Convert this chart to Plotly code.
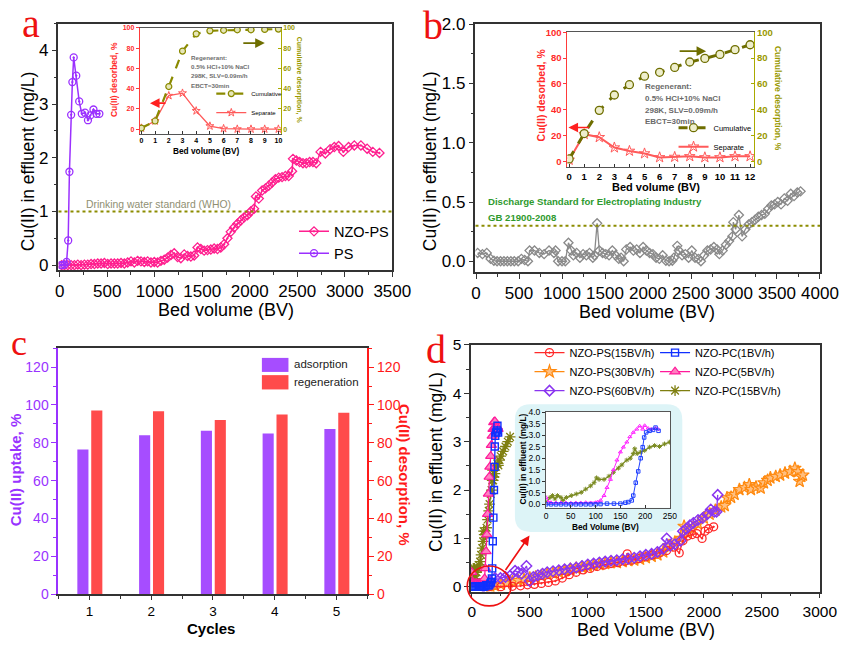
import plotly.graph_objects as go

# ---------------- DATA ----------------
# (a) breakthrough, main
a_nzops_bv = [20, 50, 85, 120, 155, 190, 225, 260, 295, 330, 365, 400, 435, 470, 505, 540, 575, 610, 645, 680,
              715, 750, 785, 820, 855, 890, 925, 960, 995, 1030, 1065, 1100, 1135, 1170, 1205, 1240, 1275, 1310, 1345, 1380,
              1415, 1450, 1485, 1520, 1555, 1590, 1625, 1660, 1695, 1730, 1765, 1800, 1835, 1870, 1905, 1940, 1975, 2010, 2045, 2065,
              2095, 2130, 2165, 2200, 2235, 2270, 2305, 2340, 2375, 2410, 2445, 2455, 2490, 2525, 2560, 2595, 2630, 2665, 2700, 2745,
              2795, 2845, 2890, 2935, 2985, 3040, 3100, 3170, 3235, 3295, 3365]
a_nzops_cu = [0.0, 0.0, 0.0, 0.0, 0.0, 0.01, 0.0, 0.01, 0.01, 0.02, 0.02, 0.03, 0.03, 0.04, 0.02, 0.03, 0.03, 0.03, 0.04, 0.03,
              0.05, 0.07, 0.05, 0.08, 0.07, 0.06, 0.07, 0.05, 0.06, 0.05, 0.08, 0.1, 0.14, 0.19, 0.22, 0.15, 0.13, 0.2, 0.17, 0.16,
              0.18, 0.33, 0.3, 0.27, 0.28, 0.29, 0.31, 0.3, 0.33, 0.39, 0.5, 0.62, 0.7, 0.77, 0.83, 0.89, 0.93, 1.0, 1.05, 1.28,
              1.24, 1.39, 1.43, 1.48, 1.54, 1.6, 1.63, 1.64, 1.66, 1.66, 1.75, 1.98, 1.95, 1.92, 1.9, 1.9, 1.92, 1.92, 1.9, 2.11,
              2.08, 2.16, 2.2, 2.22, 2.11, 2.2, 2.23, 2.23, 2.17, 2.11, 2.09]
a_ps_bv = [10, 30, 50, 72, 89, 102, 120, 133, 147, 174, 205, 232, 266, 297, 321, 355, 386, 417]
a_ps_cu = [0.0, 0.0, 0.01, 0.06, 0.46, 1.74, 2.8, 3.41, 3.87, 3.53, 3.05, 2.82, 2.84, 2.7, 2.79, 2.9, 2.82, 2.82]
WHO_LIMIT = 1.0

# (a) inset: desorption
a_ins_bv = [0, 1, 2, 3, 4, 5, 6, 7, 8, 9, 10]
a_ins_cum = [1, 8, 42, 77, 94, 97, 97.5, 98, 98, 98.4, 98.7]
a_ins_sep = [1, 8, 33, 35.5, 18, 3, 0.5, 0, 0, 0, 0]

# (b) breakthrough, main
b_bv = [19, 75, 125, 170, 208, 245, 285, 325, 365, 405, 445, 490, 528, 566, 604, 623, 680, 736, 792, 849,
        906, 925, 955, 1000, 1038, 1075, 1106, 1132, 1170, 1208, 1245, 1283, 1320, 1358, 1377, 1408, 1434, 1472, 1509, 1547,
        1585, 1623, 1660, 1687, 1717, 1747, 1792, 1830, 1868, 1906, 1943, 1981, 2019, 2057, 2094, 2132, 2170, 2208, 2245, 2283,
        2302, 2340, 2358, 2396, 2434, 2472, 2509, 2547, 2585, 2615, 2653, 2691, 2728, 2766, 2804, 2830, 2868, 2906, 2943, 2981,
        2992, 3019, 3057, 3094, 3132, 3170, 3208, 3245, 3283, 3321, 3358, 3396, 3434, 3472, 3509, 3547, 3585, 3623, 3660, 3698,
        3736, 3774]
b_cu = [0.07, 0.06, 0.07, 0.02, 0.005, 0.0, 0.0, 0.0, 0.0, 0.0, 0.0, 0.0, 0.02, 0.01, 0.0, 0.09, 0.09, 0.07, 0.06, 0.09,
        0.07, 0.09, 0.0, 0.0, 0.0, 0.156, 0.09, 0.05, 0.07, 0.03, 0.06, 0.05, 0.07, 0.03, 0.05, 0.32, 0.09, 0.07, 0.06, 0.05,
        0.09, 0.05, 0.02, 0.03, 0.0, 0.1, 0.12, 0.09, 0.1, 0.07, 0.12, 0.09, 0.07, 0.06, 0.03, 0.02, 0.05, 0.005, 0.0, 0.005,
        0.03, 0.13, 0.09, 0.05, 0.06, 0.03, 0.09, 0.03, 0.02, 0.0, 0.05, 0.09, 0.1, 0.12, 0.1, 0.06, 0.09, 0.14, 0.17, 0.21,
        0.33, 0.27, 0.39, 0.21, 0.27, 0.31, 0.33, 0.35, 0.375, 0.39, 0.4, 0.44, 0.47, 0.48, 0.5, 0.48, 0.53, 0.51, 0.57, 0.55,
        0.58, 0.59]
GB_LIMIT = 0.3

# (b) inset: desorption
b_ins_bv = [0, 1, 2, 3, 4, 5, 6, 7, 8, 9, 10, 11, 12]
b_ins_cum = [1.8, 21.5, 39.5, 51.4, 59.4, 66, 69, 72.8, 77, 79.8, 82.9, 86.6, 90.4]
b_ins_sep = [1, 21, 18.6, 10.6, 8, 6, 3, 3.3, 3.8, 3, 3, 3.8, 3.8]

# (c) cycles
c_cycles = [1, 2, 3, 4, 5]
c_adsorption = [76.4, 84.0, 86.4, 84.9, 87.3]
c_regeneration = [97.1, 96.7, 92.1, 95.0, 95.9]

# (d) flow-rate comparison
d_ps15_bv = [150, 250, 350, 420, 480, 540, 600, 660, 720, 780, 840, 900, 960, 1020, 1080, 1140, 1200, 1260, 1320, 1340,
             1380, 1440, 1500, 1560, 1620, 1680, 1740, 1788, 1820, 1860, 1900, 1940, 1985, 2010, 2040, 2085]
d_ps15_cu = [0.0, 0.0, 0.01, 0.02, 0.04, 0.05, 0.07, 0.09, 0.12, 0.18, 0.25, 0.3, 0.35, 0.38, 0.42, 0.45, 0.48, 0.5, 0.53, 0.68,
             0.55, 0.58, 0.62, 0.66, 0.7, 0.75, 0.82, 0.7, 0.95, 1.05, 1.08, 1.1, 1.0, 1.15, 1.2, 1.24]
d_ps30_bv = [160, 200, 250, 300, 350, 400, 450, 500, 550, 600, 650, 700, 750, 800, 850, 900, 950, 1000, 1050, 1100,
             1150, 1200, 1250, 1300, 1350, 1400, 1450, 1500, 1550, 1600, 1650, 1700, 1750, 1800, 1830, 1860, 1900, 1950, 2000, 2050,
             2100, 2150, 2180, 2200, 2235, 2265, 2307, 2350, 2392, 2406, 2450, 2490, 2518, 2550, 2574, 2620, 2658, 2700, 2743, 2785,
             2812, 2826, 2840, 2854]
d_ps30_cu = [0.0, 0.02, 0.05, 0.08, 0.1, 0.13, 0.15, 0.18, 0.2, 0.23, 0.26, 0.28, 0.3, 0.33, 0.36, 0.38, 0.4, 0.42, 0.44, 0.46,
             0.48, 0.5, 0.5, 0.52, 0.54, 0.55, 0.57, 0.6, 0.63, 0.66, 0.72, 0.85, 0.92, 1.0, 1.25, 1.12, 1.2, 1.3, 1.42, 1.5,
             1.58, 1.65, 1.68, 1.84, 1.85, 1.91, 2.01, 2.05, 2.11, 2.01, 2.06, 2.04, 2.15, 2.2, 2.25, 2.28, 2.31, 2.35, 2.38, 2.45,
             2.38, 2.18, 2.28, 2.31]
d_ps60_bv = [100, 130, 160, 200, 247, 290, 330, 373, 400, 430, 471, 499, 530, 570, 610, 650, 700, 750, 800, 850,
             900, 950, 1000, 1050, 1100, 1150, 1200, 1250, 1300, 1350, 1400, 1450, 1500, 1550, 1600, 1650, 1680, 1710, 1750, 1800,
             1820, 1850, 1880, 1910, 1950, 1990, 2030, 2060, 2090, 2110, 2120]
d_ps60_cu = [0.0, 0.05, 0.12, 0.18, 0.18, 0.2, 0.23, 0.33, 0.3, 0.27, 0.43, 0.12, 0.2, 0.24, 0.27, 0.3, 0.32, 0.34, 0.36, 0.38,
             0.4, 0.43, 0.46, 0.48, 0.5, 0.52, 0.54, 0.55, 0.57, 0.58, 0.6, 0.63, 0.66, 0.68, 0.72, 0.78, 1.0, 0.85, 0.88, 0.95,
             1.15, 1.2, 1.27, 1.32, 1.38, 1.42, 1.5, 1.6, 1.55, 1.55, 1.9]
d_pc1_bv = [0, 10, 20, 30, 40, 50, 60, 70, 80, 90, 100, 110, 123, 137, 150, 160, 166, 173, 176, 181,
            186, 191, 195, 198, 202, 209, 216, 221, 227]
d_pc1_cu = [0.0, 0.0, 0.0, 0.0, 0.0, 0.0, 0.0, 0.0, 0.0, 0.0, 0.0, 0.01, 0.03, 0.03, 0.03, 0.07, 0.1, 0.17, 0.38, 0.94,
            1.43, 2.0, 2.48, 2.9, 3.12, 3.19, 3.23, 3.33, 3.19]
d_pc5_bv = [0, 5, 10, 20, 30, 40, 50, 60, 70, 80, 90, 100, 104, 110, 117, 123, 130, 136, 143, 150,
            156, 163, 169, 176, 183, 189, 195, 199, 206, 212, 221, 226]
d_pc5_cu = [0.3, 0.1, 0.08, 0.07, 0.07, 0.07, 0.06, 0.07, 0.07, 0.08, 0.07, 0.08, 0.1, 0.17, 0.38, 0.73, 1.08, 1.5, 1.92, 2.27,
            2.48, 2.7, 2.93, 3.12, 3.26, 3.4, 3.26, 3.42, 3.3, 3.26, 3.3, 3.26]
d_pc15_bv = [0, 8, 13, 18, 23, 30, 34, 41, 51, 61, 71, 80, 90, 97, 102, 107, 117, 127, 136, 146,
             153, 163, 170, 176, 179, 184, 191, 199, 209, 219, 229, 239, 249, 270, 290, 310, 330]
d_pc15_cu = [0.1, 0.3, 0.38, 0.24, 0.38, 0.3, 0.17, 0.3, 0.38, 0.45, 0.52, 0.66, 0.8, 0.94, 1.15, 1.08, 1.08, 1.22, 1.39, 1.57,
             1.71, 1.92, 2.0, 2.2, 2.41, 2.2, 2.27, 2.34, 2.48, 2.55, 2.51, 2.62, 2.7, 2.8, 2.9, 3.0, 3.1]

# ---------------- STYLE / LAYOUT HELPERS ----------------
W, H = 857, 648
def fx(p):
    return p / W
def fy(p):
    return 1 - p / H

FONT = "Arial, Liberation Sans, sans-serif"
SERIF = "Liberation Serif, Times New Roman, serif"
FRAME = '#333333'

PINK = '#ff1f8f'
PURPLE = '#9b30ff'
OLIVE = '#8a8a00'
SEPRED = '#ff5a5a'
GRAY = '#8a8a8a'
ADS = '#a64dff'
REG = '#ff4b4b'
D_RED = '#ff2a2a'
D_ORANGE = '#ff8a10'
D_PURPLE = '#8a35f0'
D_BLUE = '#1030ff'
D_MAG = '#ff1a9a'
D_OLIVE = '#7f7f10'

def axis(dom, rng, anchor, size=17, color='black', bold=False, lc=FRAME, lw=1.5, tl=5, tk='outside', **kw):
    d = dict(domain=dom, range=rng, anchor=anchor, showgrid=False, zeroline=False,
             showline=True, linecolor=lc, linewidth=lw, ticks=tk, ticklen=tl,
             tickwidth=1.2, tickcolor=lc,
             tickfont=dict(family=FONT, size=size, color=color, weight='bold' if bold else 'normal'))
    d.update(kw)
    return d

fig = go.Figure()

# ---------- (a) main ----------
fig.add_trace(go.Scatter(x=a_nzops_bv, y=a_nzops_cu, name='NZO-PS', xaxis='x', yaxis='y', legend='legend',
                         mode='lines+markers', line=dict(color=PINK, width=1.5),
                         marker=dict(symbol='diamond-open-dot', size=7, color=PINK, line=dict(width=1.3))))
fig.add_trace(go.Scatter(x=a_ps_bv, y=a_ps_cu, name='PS', xaxis='x', yaxis='y', legend='legend',
                         mode='lines+markers', line=dict(color=PURPLE, width=1.5),
                         marker=dict(symbol='circle-open-dot', size=7, color=PURPLE, line=dict(width=1.3))))
# ---------- (a) inset ----------
fig.add_trace(go.Scatter(x=a_ins_bv, y=a_ins_cum, name='Cumulative', xaxis='x2', yaxis='y3', legend='legend2',
                         mode='lines+markers', line=dict(color=OLIVE, width=2.2, dash='dash'),
                         marker=dict(symbol='circle', size=6, color='#e6e6b8', line=dict(color=OLIVE, width=1.2))))
fig.add_trace(go.Scatter(x=a_ins_bv, y=a_ins_sep, name='Separate', xaxis='x2', yaxis='y2', legend='legend2',
                         mode='lines+markers', line=dict(color=SEPRED, width=1.3),
                         marker=dict(symbol='star-open', size=6, color=SEPRED, line=dict(width=1))))
# ---------- (b) main ----------
fig.add_trace(go.Scatter(x=b_bv, y=b_cu, name='NZO-PS', xaxis='x3', yaxis='y4', showlegend=False,
                         mode='lines+markers', line=dict(color=GRAY, width=1.3),
                         marker=dict(symbol='diamond-open', size=7, color=GRAY, line=dict(width=1.3))))
# ---------- (b) inset ----------
fig.add_trace(go.Scatter(x=b_ins_bv, y=b_ins_cum, name='Cumulative', xaxis='x4', yaxis='y6', legend='legend3',
                         mode='lines+markers', line=dict(color='#6e6e00', width=3, dash='dash'),
                         marker=dict(symbol='circle', size=8, color='#eeeecc', line=dict(color='#6e6e00', width=1.3))))
fig.add_trace(go.Scatter(x=b_ins_bv, y=b_ins_sep, name='Separate', xaxis='x4', yaxis='y5', legend='legend3',
                         mode='lines+markers', line=dict(color=SEPRED, width=2),
                         marker=dict(symbol='star-open', size=8, color=SEPRED, line=dict(width=1))))
# ---------- (c) bars ----------
fig.add_trace(go.Bar(x=c_cycles, y=c_adsorption, name='adsorption', xaxis='x5', yaxis='y7', showlegend=False,
                     width=0.18, offset=-0.195, marker=dict(color=ADS, line=dict(width=0))))
fig.add_trace(go.Bar(x=c_cycles, y=c_regeneration, name='regeneration', xaxis='x5', yaxis='y8', showlegend=False,
                     width=0.18, offset=0.03, marker=dict(color=REG, line=dict(width=0))))
# ---------- (d) main ----------
fig.add_trace(go.Scatter(x=d_ps30_bv, y=d_ps30_cu, name='NZO-PS(30BV/h)', xaxis='x6', yaxis='y9', legend='legend4', legendrank=2,
                         mode='lines+markers', line=dict(color=D_ORANGE, width=1.3),
                         marker=dict(symbol='star', size=9.5, color='#ffbf80', line=dict(color=D_ORANGE, width=1.2))))
fig.add_trace(go.Scatter(x=d_ps15_bv, y=d_ps15_cu, name='NZO-PS(15BV/h)', xaxis='x6', yaxis='y9', legend='legend4', legendrank=1,
                         mode='lines+markers', line=dict(color=D_RED, width=1.3),
                         marker=dict(symbol='circle-open-dot', size=8, color=D_RED, line=dict(width=1.3))))
fig.add_trace(go.Scatter(x=d_ps60_bv, y=d_ps60_cu, name='NZO-PS(60BV/h)', xaxis='x6', yaxis='y9', legend='legend4', legendrank=3,
                         mode='lines+markers', line=dict(color=D_PURPLE, width=1.3),
                         marker=dict(symbol='diamond-open', size=8, color=D_PURPLE, line=dict(width=1.5))))
fig.add_trace(go.Scatter(x=d_pc15_bv, y=d_pc15_cu, name='NZO-PC(15BV/h)', xaxis='x6', yaxis='y9', legend='legend5', legendrank=3,
                         mode='lines+markers', line=dict(color=D_OLIVE, width=1.3),
                         marker=dict(symbol='asterisk-open', size=9, color=D_OLIVE, line=dict(color=D_OLIVE, width=1.3))))
fig.add_trace(go.Scatter(x=d_pc5_bv, y=d_pc5_cu, name='NZO-PC(5BV/h)', xaxis='x6', yaxis='y9', legend='legend5', legendrank=2,
                         mode='lines+markers', line=dict(color=D_MAG, width=1.3),
                         marker=dict(symbol='triangle-up', size=9, color='#ff80c0', line=dict(color=D_MAG, width=1.2))))
fig.add_trace(go.Scatter(x=d_pc1_bv, y=d_pc1_cu, name='NZO-PC(1BV/h)', xaxis='x6', yaxis='y9', legend='legend5', legendrank=1,
                         mode='lines+markers', line=dict(color=D_BLUE, width=1.3),
                         marker=dict(symbol='square-open', size=7, color=D_BLUE, line=dict(width=1.4))))
# ---------- (d) inset ----------
fig.add_trace(go.Scatter(x=d_pc15_bv, y=d_pc15_cu, xaxis='x7', yaxis='y10', showlegend=False,
                         mode='lines+markers', line=dict(color='#7a8a20', width=1.2),
                         marker=dict(symbol='asterisk-open', size=4, color='#7a8a20', line=dict(color='#7a8a20', width=1))))
fig.add_trace(go.Scatter(x=d_pc5_bv, y=d_pc5_cu, xaxis='x7', yaxis='y10', showlegend=False,
                         mode='lines+markers', line=dict(color='#ff22ff', width=1),
                         marker=dict(symbol='triangle-up-open', size=3.5, color='#ff22ff', line=dict(width=1))))
fig.add_trace(go.Scatter(x=d_pc1_bv, y=d_pc1_cu, xaxis='x7', yaxis='y10', showlegend=False,
                         mode='lines+markers', line=dict(color='#2040ff', width=1),
                         marker=dict(symbol='square-open', size=3.5, color='#2040ff', line=dict(width=1))))

# ---------------- AXES ----------------
lay = dict(
    xaxis=axis([fx(56), fx(399)], [-13, 3500], 'y', mirror=True, dtick=500,
               minor=dict(ticks='outside', ticklen=3, dtick=250, tickcolor=FRAME)),
    yaxis=axis([fy(268), fy(15)], [-0.09, 4.5], 'x', mirror=True, dtick=1,
               minor=dict(ticks='outside', ticklen=3, dtick=0.5, tickcolor=FRAME)),
    xaxis2=axis([fx(139.5), fx(284.5)], [-0.12, 10.18], 'y2', size=7, bold=True, lw=1, tl=3, tk='inside', dtick=1,
                mirror=True, linecolor='#555'),
    yaxis2=axis([fy(128), fy(19.3)], [-4.5, 100], 'x2', size=7, bold=True, color='#ff2a2a', lc='#ff3a3a', lw=1, tl=3, dtick=20),
    yaxis3=axis(None, [-4.5, 100], 'x2', size=7, bold=True, color='#999900', lc='#aaaa00', lw=1, tl=3, tk='inside', dtick=20,
                overlaying='y2', side='right'),
    xaxis3=axis([fx(484.5), fx(838.5)], [-6, 4000], 'y4', mirror=True, dtick=500,
                minor=dict(ticks='outside', ticklen=3, dtick=250, tickcolor=FRAME)),
    yaxis4=axis([fy(270), fy(15.7)], [-0.09, 2.0], 'x3', mirror=True, dtick=0.5, tickformat='.1f',
                minor=dict(ticks='outside', ticklen=3, dtick=0.25, tickcolor=FRAME)),
    xaxis4=axis([fx(579), fx(770.7)], [-0.11, 12.26], 'y5', size=9.5, bold=True, lw=1, tl=3, tk='inside', dtick=1,
                mirror=True, linecolor='#555'),
    yaxis5=axis([fy(162.7), fy(24)], [-4.8, 100], 'x4', size=9.5, bold=True, color='#ff2a2a', lc='#ff3a3a', lw=1, tl=3, dtick=20),
    yaxis6=axis(None, [-4.8, 100], 'x4', size=9.5, bold=True, color='#999900', lc='#aaaa00', lw=1, tl=3, tk='inside', dtick=20,
                overlaying='y5', side='right'),
    xaxis5=axis([fx(56), fx(373.3)], [0.5, 5.5], 'y7', size=13.5, tl=4, mirror=True, dtick=1,
                minor=dict(ticks='outside', ticklen=3, dtick=0.5, tickcolor=FRAME)),
    yaxis7=axis([fy(601), fy(348.3)], [0, 130], 'x5', size=14, color='#9933ff', lc='#9933ff', lw=2, dtick=20,
                minor=dict(ticks='outside', ticklen=3, dtick=10, tickcolor='#9933ff')),
    yaxis8=axis(None, [0, 130], 'x5', size=14, color='#ff1a1a', lc='#ff1a1a', lw=2, dtick=20,
                overlaying='y7', side='right',
                minor=dict(ticks='outside', ticklen=3, dtick=10, tickcolor='#ff1a1a')),
    xaxis6=axis([fx(480), fx(838.3)], [-6, 3000], 'y9', size=15.5, mirror=True, dtick=500,
                minor=dict(ticks='outside', ticklen=3, dtick=250, tickcolor=FRAME)),
    yaxis9=axis([fy(598.3), fy(345)], [-0.1, 5.0], 'x6', size=15.5, mirror=True, dtick=1,
                minor=dict(ticks='outside', ticklen=3, dtick=0.5, tickcolor=FRAME)),
    xaxis7=axis([fx(557), fx(684.3)], [0, 250], 'y10', size=8.5, lw=1, tl=3, tk='inside', dtick=50, mirror=True,
                linecolor='#555'),
    yaxis10=axis([fy(512), fy(414)], [-0.14, 4.0], 'x7', size=8.5, lw=1, tl=3, dtick=0.5, tickformat='.1f',
                 mirror=True, linecolor='#555'),
)
for k in ('yaxis3', 'yaxis6', 'yaxis8'):
    lay[k].pop('domain')

def legend_at(xp, yp, size):
    return dict(x=fx(xp), y=fy(yp), xanchor='left', yanchor='top', bgcolor='rgba(0,0,0,0)',
                font=dict(family=FONT, size=size, color='black'), itemwidth=30, tracegroupgap=0)

lay['legend'] = legend_at(298, 212, 14.5)
lay['legend2'] = legend_at(213, 72, 6)
lay['legend3'] = legend_at(688, 107, 7.5)
lay['legend4'] = legend_at(540, 338, 11)
lay['legend5'] = legend_at(669, 338, 11)

# ---------------- ANNOTATIONS ----------------
ann = []
def txt(text, xp, yp, size, color='black', family=FONT, bold=False, angle=0, xanchor='center', yanchor='middle', align='center'):
    ann.append(dict(text=text, x=fx(xp), y=fy(yp), xref='paper', yref='paper', showarrow=False,
                    textangle=angle, xanchor=xanchor, yanchor=yanchor, align=align,
                    font=dict(family=family, size=size, color=color, weight='bold' if bold else 'normal')))

def arrow(x_head, y_head, dx, dy, color):
    ann.append(dict(text='', x=fx(x_head), y=fy(y_head), xref='paper', yref='paper', showarrow=True,
                    ax=dx, ay=dy, arrowhead=2, arrowsize=1.2, arrowwidth=1.6, arrowcolor=color))

# panel letters
txt('a', 28, 15, 40, '#ee1111', SERIF)
txt('b', 441, 17, 40, '#ee1111', SERIF)
txt('c', 15, 343, 36, '#ee1111', SERIF)
txt('d', 444, 350, 40, '#ee1111', SERIF)

# (a) titles
txt('Cu(II) in effluent (mg/L)', 25, 156, 17.5, angle=-90)
txt('Bed volume (BV)', 228, 309, 18)
txt('Drinking water standard (WHO)', 82, 201, 10.4, '#8f8f72', xanchor='left')
# (a) inset
txt('Cu(II) desorbed, %', 113, 72, 8.5, '#ff2a2a', bold=True, angle=-90)
txt('Cumulative desorption, %', 303.5, 73, 7, '#999900', bold=True, angle=90)
txt('Bed volume (BV)', 208.5, 146, 8.3, bold=True)
for line, yy in zip(['Regenerant:', '0.5% HCl+10% NaCl', '298K, SLV=0.09m/h', 'EBCT=30min'], [50, 59.3, 68.7, 78.3]):
    txt(line, 190.5, yy, 6.2, '#6e6e6e', bold=True, xanchor='left')
arrow(150, 96.7, 17, 0, '#ff2020')
arrow(268, 35, -23, 0, '#6e6e00')

# (b) titles
txt('Cu(II) in effluent (mg/L)', 438, 156, 17.5, angle=-90)
txt('Bed volume (BV)', 661, 311, 18)
txt('Discharge Standard for Electroplating Industry', 495.5, 198, 9.6, '#2e9a2e', bold=True, xanchor='left')
txt('GB 21900-2008', 495.5, 214.5, 9.6, '#2e9a2e', bold=True, xanchor='left')
# (b) inset
txt('Cu(II) desorbed, %', 551.5, 88, 10.5, '#ff2a2a', bold=True, angle=-90)
txt('Cumulative desorption, %', 796, 92, 8.5, '#999900', bold=True, angle=90)
txt('Bed volume (BV)', 670, 183, 11, bold=True)
for line, yy in zip(['Regenerant:', '0.5% HCl+10% NaCl', '298K, SLV=0.09m/h', 'EBCT=30min'], [80, 91.7, 104, 116]):
    txt(line, 656.5, yy, 8, '#6a6a6a', bold=True, xanchor='left')
arrow(580, 121.7, 22, 0, '#ff2020')
arrow(721.5, 43.3, -28, 0, '#6e6e00')

# (c) titles + legend text
txt('Cu(II) uptake, %', 12, 473, 15, '#9933ff', bold=True, angle=-90)
txt('Cu(II) desorption, %', 411.5, 479, 15, '#ff1a1a', bold=True, angle=90)
txt('Cycles', 212.5, 636, 15, bold=True)
txt('adsorption', 296, 365, 11.5, '#222', xanchor='left')
txt('regeneration', 296, 383.5, 11.5, '#222', xanchor='left')

# (d) titles
txt('Cu(II) in effluent (mg/L)', 444, 465, 17.5, angle=-90)
txt('Bed Volume (BV)', 660, 638, 18)
txt('Cu(II) in effluent (mg/L)', 533.5, 462.5, 8.3, bold=True, angle=-90)
txt('Bed Volume (BV)', 618, 532, 8.3, bold=True)
arrow(540, 540.7, -25, 36, '#ee1111')

# ---------------- SHAPES ----------------
shapes = []
shapes.append(dict(type='line', xref='x domain', yref='y', x0=0, x1=1, y0=WHO_LIMIT, y1=WHO_LIMIT,
                   line=dict(color='#8c8c00', width=2, dash='dot')))
shapes.append(dict(type='line', xref='x3 domain', yref='y4', x0=0, x1=1, y0=GB_LIMIT, y1=GB_LIMIT,
                   line=dict(color='#8c8c00', width=2, dash='dot')))
shapes.append(dict(type='rect', xref='paper', yref='paper', x0=fx(265), x1=fx(292.3), y0=fy(372.7), y1=fy(358.3),
                   fillcolor=ADS, line=dict(width=0)))
shapes.append(dict(type='rect', xref='paper', yref='paper', x0=fx(265), x1=fx(292.3), y0=fy(390.7), y1=fy(376),
                   fillcolor=REG, line=dict(width=0)))
x0, x1, y0, y1, r = 525, 697, 406, 537, 16
def P(a, b):
    return f"{fx(a):.5f},{fy(b):.5f}"
path = (f"M {P(x0 + r, y0)} L {P(x1 - r, y0)} Q {P(x1, y0)} {P(x1, y0 + r)} "
        f"L {P(x1, y1 - r)} Q {P(x1, y1)} {P(x1 - r, y1)} L {P(x0 + r, y1)} "
        f"Q {P(x0, y1)} {P(x0, y1 - r)} L {P(x0, y0 + r)} Q {P(x0, y0)} {P(x0 + r, y0)} Z")
shapes.append(dict(type='path', path=path, xref='paper', yref='paper', fillcolor='#ddf4f7',
                   line=dict(width=0), layer='below'))
shapes.append(dict(type='rect', xref='paper', yref='paper', x0=fx(557), x1=fx(684.3), y0=fy(512), y1=fy(414),
                   fillcolor='white', line=dict(width=0), layer='below'))
shapes.append(dict(type='circle', xref='paper', yref='paper', x0=fx(476), x1=fx(521), y0=fy(613), y1=fy(572),
                   line=dict(color='#ee1111', width=1.6)))

fig.update_layout(**lay)
fig.update_layout(annotations=ann, shapes=shapes, width=W, height=H, autosize=False,
                  margin=dict(l=0, r=0, t=0, b=0), paper_bgcolor='white', plot_bgcolor='white',
                  font=dict(family=FONT), barmode='overlay')

fig.write_html("out.html")
